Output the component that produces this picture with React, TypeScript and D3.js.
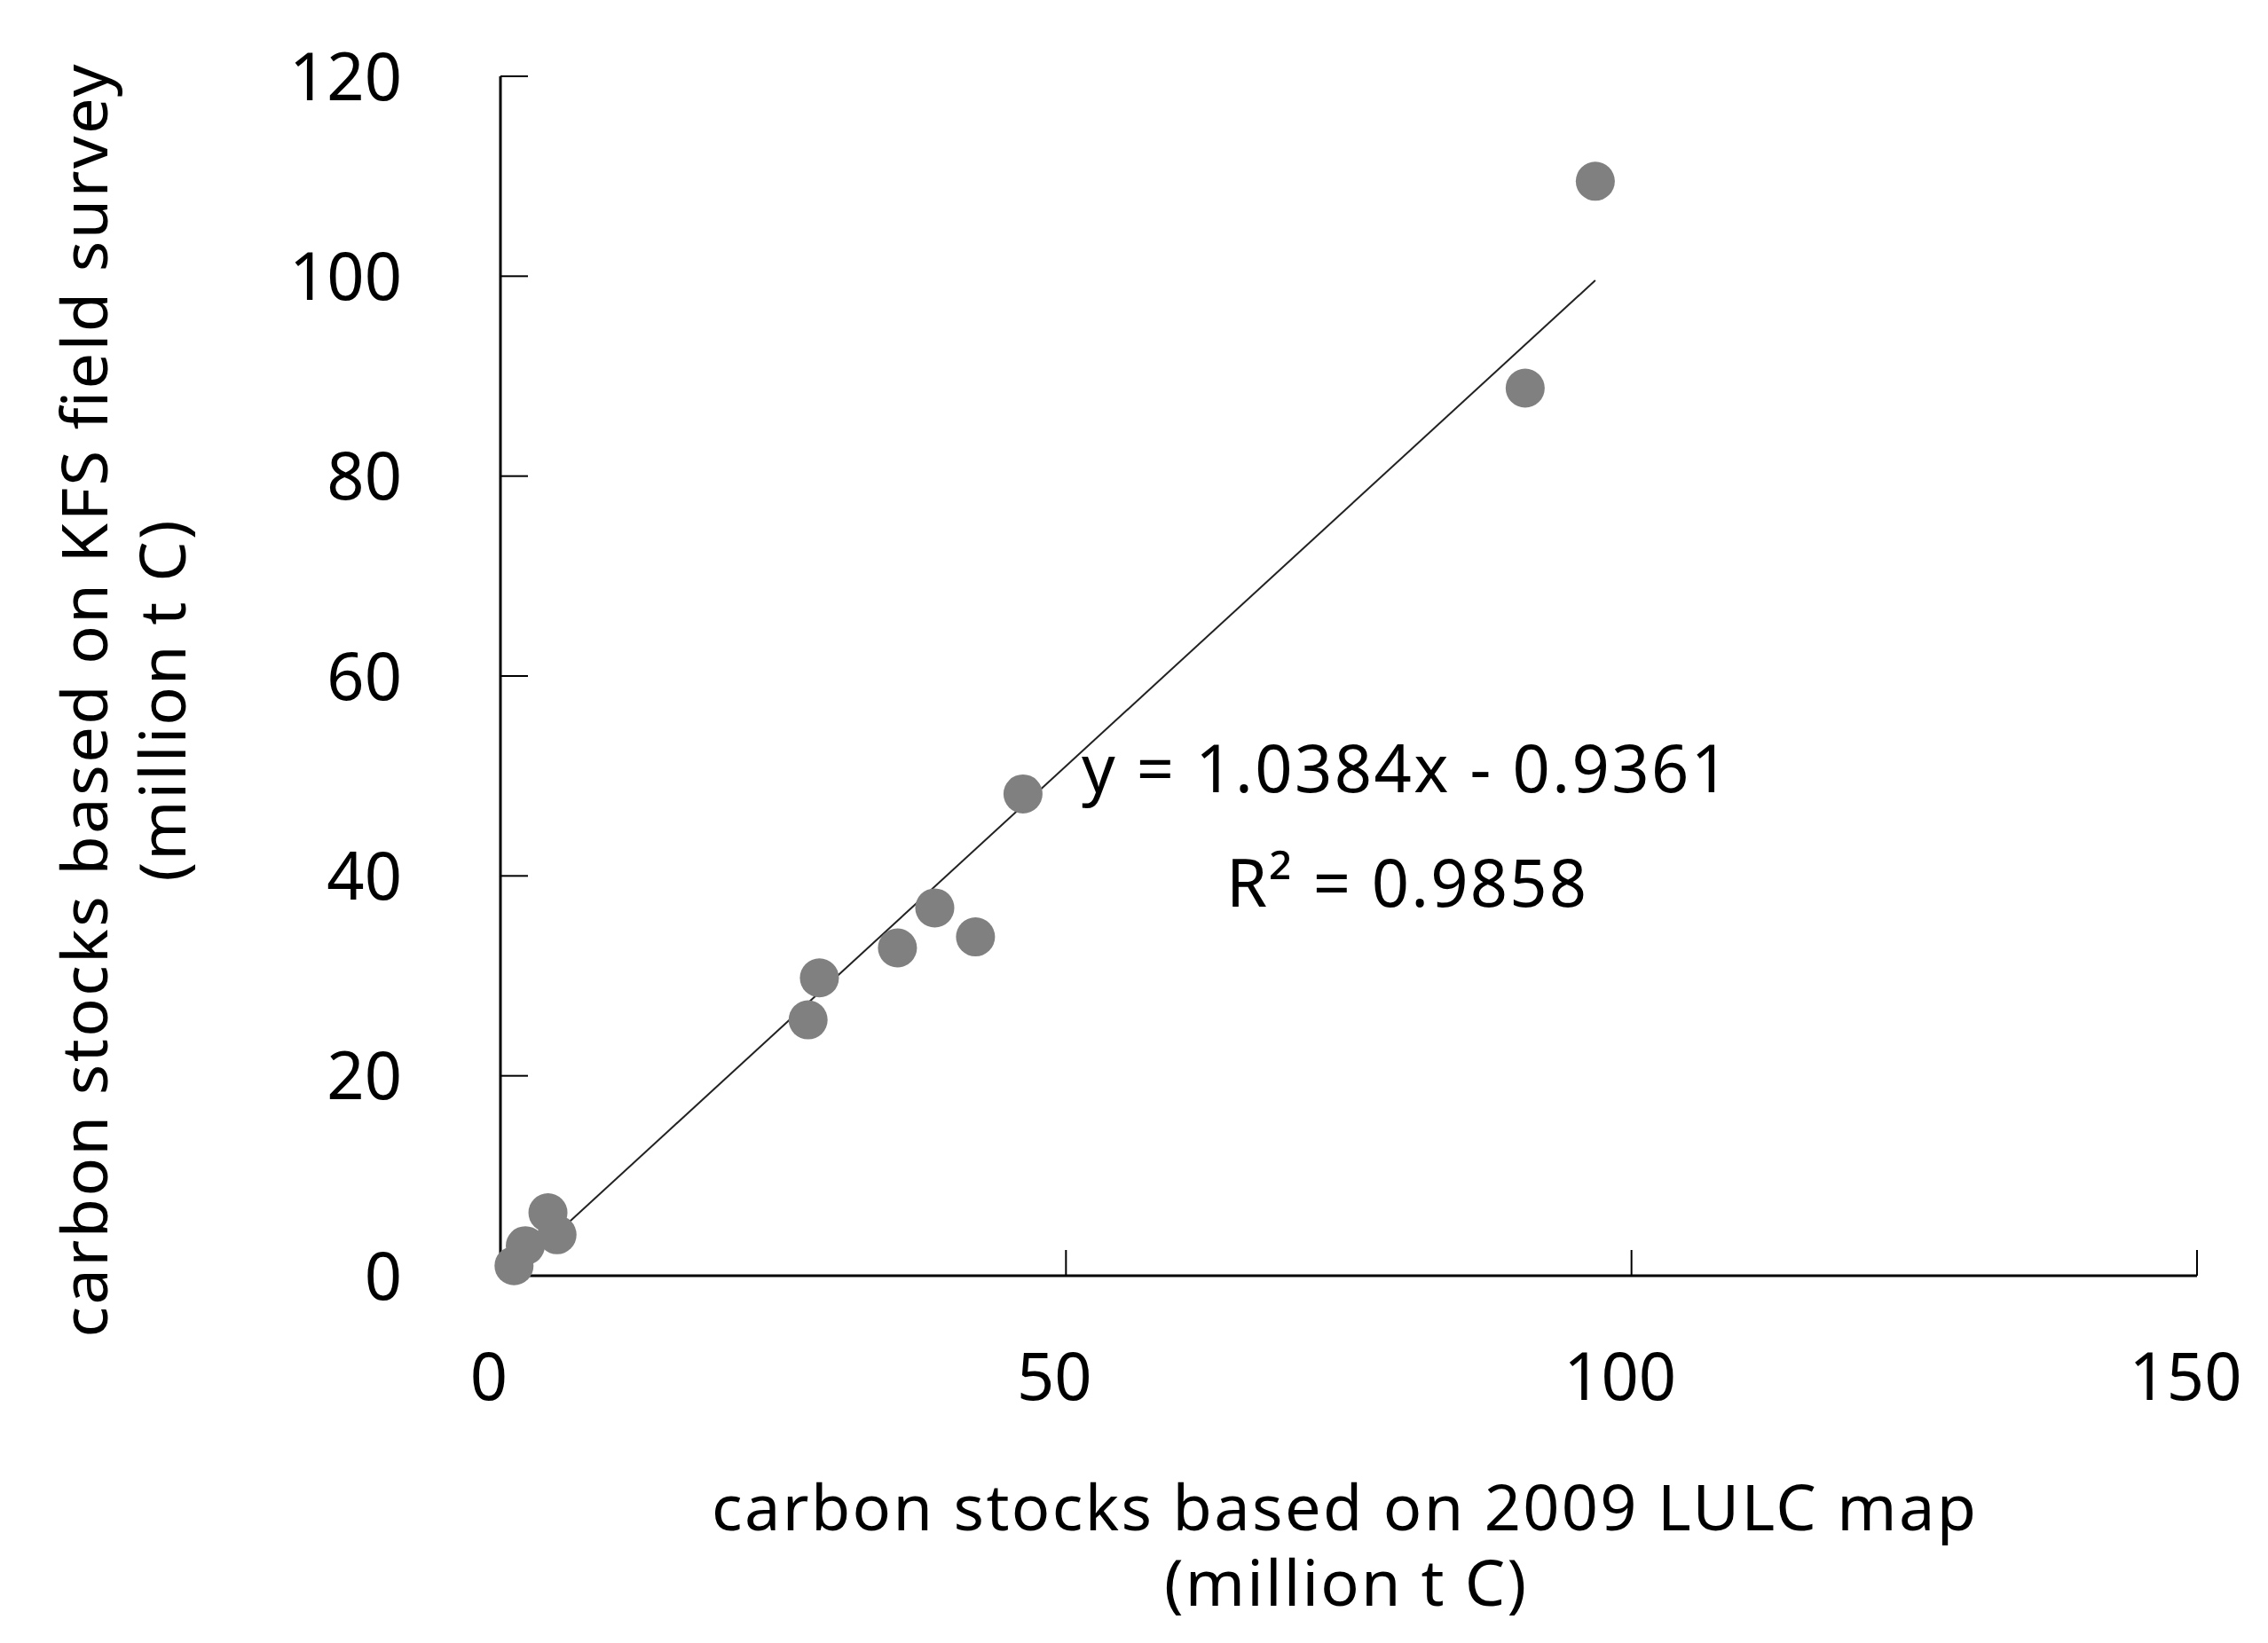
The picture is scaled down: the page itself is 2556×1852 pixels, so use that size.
import React from "react";
import * as d3 from "d3";

const lulcX = [96.8, 90.6, 46.2, 38.4, 42.0, 35.1, 28.2, 27.2, 1.2, 2.2, 4.2, 5.0];
const kfsY = [109.5, 88.8, 48.2, 36.8, 33.9, 32.8, 29.8, 25.6, 1.0, 3.0, 6.3, 4.1];
const xTicks = [0, 50, 100, 150];
const yTicks = [0, 20, 40, 60, 80, 100, 120];
const slope = 1.0384;
const intercept = -0.9361;
const r2 = 0.9858;

const W = 2556;
const H = 1852;
const FONT = "'Noto Sans', 'Open Sans', sans-serif";

export default function App() {
  const x = d3.scaleLinear().domain([0, 150]).range([564, 2476]);
  const y = d3.scaleLinear().domain([0, 120]).range([1438, 86]);
  const pts = lulcX.map((v, i) => ({ x: v, y: kfsY[i] }));
  const [xmin, xmax] = d3.extent(lulcX) as [number, number];
  const line = d3
    .line<number>()
    .x((d) => x(d))
    .y((d) => y(slope * d + intercept));

  return (
    <svg
      width={W}
      height={H}
      style={{ position: "absolute", left: 0, top: 0, background: "#fff" }}
      fontFamily={FONT}
    >
      <rect width={W} height={H} fill="#fff" />
      {/* axes */}
      <line x1={x(0)} x2={x(0)} y1={y(120)} y2={y(0)} stroke="#000" strokeWidth={3} />
      <line x1={x(0)} x2={x(150)} y1={y(0)} y2={y(0)} stroke="#000" strokeWidth={3} />
      {yTicks.map((t) => (
        <g key={"y" + t}>
          <line x1={x(0)} x2={x(0) + 31} y1={y(t)} y2={y(t)} stroke="#000" strokeWidth={2} />
          <text x={453} y={y(t)} dy="0.36em" textAnchor="end" fontSize={74} fill="#000">
            {t}
          </text>
        </g>
      ))}
      {xTicks.map((t) => (
        <g key={"x" + t}>
          {t > 0 && (
            <line x1={x(t)} x2={x(t)} y1={y(0)} y2={y(0) - 29} stroke="#000" strokeWidth={2} />
          )}
          <text x={x(t) - 13} y={1578} textAnchor="middle" fontSize={74} fill="#000">
            {t}
          </text>
        </g>
      ))}
      {/* trend line */}
      <path d={line([xmin, xmax]) || ""} stroke="#222" strokeWidth={2} fill="none" />
      {/* points */}
      {pts.map((p, i) => (
        <circle key={i} cx={x(p.x)} cy={y(p.y)} r={22} fill="#808080" />
      ))}
      {/* equation */}
      <text x={1219} y={893} fontSize={74} fill="#000" textLength={729} lengthAdjust="spacing">
        {`y = ${slope.toFixed(4)}x - ${Math.abs(intercept).toFixed(4)}`}
      </text>
      <text x={1382} y={1022} fontSize={74} fill="#000" textLength={406} lengthAdjust="spacing">
        {`R² = ${r2.toFixed(4)}`}
      </text>
      {/* x title */}
      <text x={802} y={1725} fontSize={72} fill="#000" textLength={1425} lengthAdjust="spacing">
        carbon stocks based on 2009 LULC map
      </text>
      <text x={1312} y={1810} fontSize={72} fill="#000" textLength={408} lengthAdjust="spacing">
        (million t C)
      </text>
      {/* y title */}
      <g transform="translate(121,790) rotate(-90)">
        <text x={0} y={0} textAnchor="middle" fontSize={72} fill="#000" textLength={1435} lengthAdjust="spacing">
          carbon stocks based on KFS field survey
        </text>
      </g>
      <g transform="translate(209,790) rotate(-90)">
        <text x={0} y={0} textAnchor="middle" fontSize={72} fill="#000" textLength={407} lengthAdjust="spacing">
          (million t C)
        </text>
      </g>
    </svg>
  );
}
